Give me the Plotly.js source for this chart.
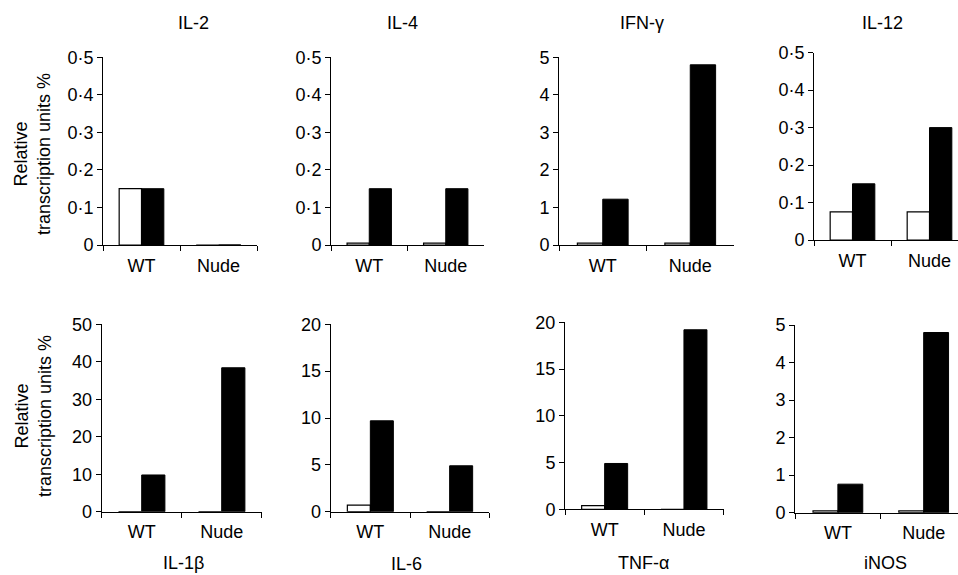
<!DOCTYPE html>
<html>
<head>
<meta charset="utf-8">
<script src="https://cdn.plot.ly/plotly-3.0.1.min.js"></script>
<style>html,body{margin:0;padding:0;background:#fff}#chart{width:958px;height:575px}</style>
</head>
<body>
<div id="chart"></div>
<script>
const categories = ["WT", "Nude"];
const panelNames = ["IL-2", "IL-4", "IFN-γ", "IL-12", "IL-1β", "IL-6", "TNF-α", "iNOS"];
const openBars = [[0.15, 0], [0.005, 0.005], [0.05, 0.05], [0.075, 0.075], [0, 0], [0.7, 0], [0.4, 0], [0.05, 0.05]];
const filledBars = [[0.15, 0], [0.15, 0.15], [1.22, 4.8], [0.15, 0.30], [9.8, 38.4], [9.7, 4.9], [4.9, 19.2], [0.76, 4.8]];

const ticksTenths = [0, 0.1, 0.2, 0.3, 0.4, 0.5];
const labelsTenths = ["0", "0·1", "0·2", "0·3", "0·4", "0·5"];
const ticksFive = [0, 1, 2, 3, 4, 5];
const labelsFive = ["0", "1", "2", "3", "4", "5"];
const ticksTwenty = [0, 5, 10, 15, 20];
const labelsTwenty = ["0", "5", "10", "15", "20"];
const ticksFifty = [0, 10, 20, 30, 40, 50];
const labelsFifty = ["0", "10", "20", "30", "40", "50"];

const yTicks = [ticksTenths, ticksTenths, ticksFive, ticksTenths, ticksFifty, ticksTwenty, ticksTwenty, ticksFive];
const yLabels = [labelsTenths, labelsTenths, labelsFive, labelsTenths, labelsFifty, labelsTwenty, labelsTwenty, labelsFive];
const yTop = [0.5, 0.5, 5, 0.5, 50, 20, 20, 5];

// layout geometry (pixels)
const W = 958, H = 575;
const boxes = [
  {x0: 103, x1: 257, y0: 57.3, y1: 245, xr: 1.5},
  {x0: 331, x1: 484, y0: 57.3, y1: 245, xr: 1.5},
  {x0: 559, x1: 734, y0: 57.3, y1: 245, xr: 1.5},
  {x0: 814, x1: 958, y0: 52.7, y1: 240, xr: 1.37},
  {x0: 101.7, x1: 261.7, y0: 324.3, y1: 511.7, xr: 1.5},
  {x0: 330.7, x1: 489.3, y0: 324.3, y1: 511.7, xr: 1.5},
  {x0: 565, x1: 723.6, y0: 322.3, y1: 509.3, xr: 1.5},
  {x0: 795, x1: 958, y0: 325, y1: 512.7, xr: 1.40}
];
const titlePos = [[193, 23], [402, 23], [642, 23], [882, 23], [183, 563], [406, 564], [643, 563], [885, 563]];

const FONT = "Liberation Sans, Arial, Helvetica, sans-serif";
const FS = 18;

const data = [];
const layout = {
  width: W, height: H, autosize: false,
  margin: {l: 0, r: 0, t: 0, b: 0, pad: 0},
  paper_bgcolor: "#fff", plot_bgcolor: "rgba(0,0,0,0)",
  showlegend: false,
  barmode: "group", bargap: 0.42, bargroupgap: 0,
  font: {family: FONT, size: FS, color: "#000"},
  annotations: []
};

for (let i = 0; i < 8; i++) {
  const n = i === 0 ? "" : String(i + 1);
  const xa = "x" + n, ya = "y" + n;
  data.push({type: "bar", x: categories, y: openBars[i], xaxis: xa, yaxis: ya,
    marker: {color: "#ffffff", line: {color: "#000", width: 1.2}}, hoverinfo: "skip"});
  data.push({type: "bar", x: categories, y: filledBars[i], xaxis: xa, yaxis: ya,
    marker: {color: "#000000", line: {color: "#000", width: 1}}, hoverinfo: "skip"});
  const b = boxes[i];
  layout["xaxis" + n] = {
    domain: [b.x0 / W, b.x1 / W], anchor: ya,
    type: "category", categoryorder: "array", categoryarray: categories,
    range: [-0.5, b.xr], fixedrange: true,
    showline: true, linecolor: "#000", linewidth: 1,
    ticks: "outside", tickson: "boundaries", ticklen: 5, tickcolor: "#000", tickwidth: 1,
    ticklabelstandoff: 4,
    showgrid: false, zeroline: false,
    tickfont: {family: FONT, size: FS, color: "#000"}
  };
  layout["yaxis" + n] = {
    domain: [1 - b.y1 / H, 1 - b.y0 / H], anchor: xa,
    range: [0, yTop[i]], fixedrange: true,
    tickmode: "array", tickvals: yTicks[i], ticktext: yLabels[i],
    showline: true, linecolor: "#000", linewidth: 1,
    ticks: "outside", ticklen: 5, tickcolor: "#000", tickwidth: 1,
    showgrid: false, zeroline: false,
    tickfont: {family: FONT, size: FS, color: "#000"}
  };
  layout.annotations.push({
    text: panelNames[i], xref: "paper", yref: "paper",
    x: titlePos[i][0] / W, y: 1 - titlePos[i][1] / H,
    xanchor: "center", yanchor: "middle", showarrow: false,
    font: {family: FONT, size: FS, color: "#000"}
  });
}
[[33, 154], [33, 416]].forEach(p => {
  layout.annotations.push({
    text: "Relative<br>transcription units %", xref: "paper", yref: "paper",
    x: p[0] / W, y: 1 - p[1] / H, xanchor: "center", yanchor: "middle",
    textangle: -90, showarrow: false,
    font: {family: FONT, size: FS, color: "#000"}
  });
});

Plotly.newPlot("chart", data, layout, {staticPlot: true, displayModeBar: false});
</script>
</body>
</html>
